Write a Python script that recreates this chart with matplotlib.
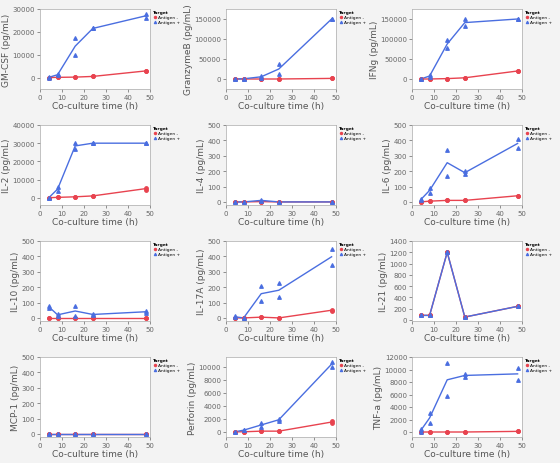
import numpy as np
import matplotlib.pyplot as plt

# co-culture time points (h)
times = [4, 8, 16, 24, 48]

names = ["GM-CSF", "GranzymeB", "IFNg", "IL-2", "IL-4", "IL-6",
         "IL-10", "IL-17A", "IL-21", "MCP-1", "Perforin", "TNF-a"]

# replicates per time point: antigen-negative
neg = {
    "GM-CSF": [[0, 0], [100, 100], [200, 200], [500, 500], [2800, 3000]],
    "GranzymeB": [[0, 0], [0, 0], [0, 0], [0, 0], [1500, 1500]],
    "IFNg": [[0, 0], [0, 0], [1000, 1000], [3000, 3000], [19000, 21000]],
    "IL-2": [[0, 0], [200, 200], [500, 500], [1000, 1000], [4500, 5500]],
    "IL-4": [[0, 0], [0, 0], [2, 2], [0, 0], [0, 0]],
    "IL-6": [[0, 0], [5, 5], [10, 10], [10, 10], [40, 40]],
    "IL-10": [[0, 0], [0, 0], [0, 0], [0, 0], [0, 0]],
    "IL-17A": [[0, 0], [0, 0], [5, 5], [0, 0], [48, 52]],
    "IL-21": [[80, 80], [80, 80], [1200, 1200], [50, 50], [240, 240]],
    "MCP-1": [[0, 0], [0, 0], [0, 0], [0, 0], [0, 0]],
    "Perforin": [[0, 0], [0, 0], [100, 100], [100, 100], [1400, 1600]],
    "TNF-a": [[0, 0], [0, 0], [0, 0], [0, 0], [100, 100]],
}
# antigen-positive
pos = {
    "GM-CSF": [[0, 200], [1000, 1500], [10000, 17500], [21500, 21500], [26000, 28000]],
    "GranzymeB": [[0, 0], [500, 500], [3000, 8000], [12000, 38000], [150000, 150000]],
    "IFNg": [[0, 0], [5000, 10000], [78000, 97000], [132000, 150000], [150000, 150000]],
    "IL-2": [[0, 0], [3500, 6000], [27000, 30000], [30000, 30000], [30000, 30000]],
    "IL-4": [[0, 0], [0, 0], [8, 12], [0, 0], [0, 0]],
    "IL-6": [[10, 20], [60, 90], [170, 340], [180, 200], [350, 410]],
    "IL-10": [[65, 80], [15, 25], [15, 75], [20, 25], [32, 48]],
    "IL-17A": [[5, 10], [0, 0], [110, 205], [135, 225], [345, 450]],
    "IL-21": [[80, 80], [80, 80], [1200, 1200], [50, 50], [240, 240]],
    "MCP-1": [[0, 0], [0, 0], [0, 0], [0, 0], [0, 0]],
    "Perforin": [[0, 0], [200, 300], [700, 1400], [1700, 2000], [10000, 10800]],
    "TNF-a": [[0, 500], [1500, 3000], [5700, 11000], [8800, 9300], [8300, 10300]],
}

ylims = {
    "GM-CSF": (-5000, 30000), "GranzymeB": (-25000, 175000), "IFNg": (-25000, 175000),
    "IL-2": (-4000, 40000), "IL-4": (-20, 500), "IL-6": (-20, 500),
    "IL-10": (-20, 500), "IL-17A": (-20, 500), "IL-21": (-20, 1400),
    "MCP-1": (-20, 500), "Perforin": (-800, 11500), "TNF-a": (-800, 12000),
}
yticks = {
    "GM-CSF": [0, 10000, 20000, 30000], "GranzymeB": [0, 50000, 100000, 150000],
    "IFNg": [0, 50000, 100000, 150000], "IL-2": [0, 10000, 20000, 30000, 40000],
    "IL-21": [0, 200, 400, 600, 800, 1000, 1200, 1400],
    "Perforin": [0, 2000, 4000, 6000, 8000, 10000],
    "TNF-a": [0, 2000, 4000, 6000, 8000, 10000, 12000],
}

RED = "#e8434f"
BLUE = "#4a6ee0"

fig = plt.figure(figsize=(5.6, 4.64), dpi=100)
fig.patch.set_facecolor("#f3f3f3")
W, H = 560, 464
col_left = [40, 226, 412]

for i, name in enumerate(names):
    r, c = divmod(i, 3)
    left = col_left[c]
    top = r * 116 + 10
    ax = fig.add_axes([left / W, 1 - (top + 80) / H, 110 / W, 80 / H])
    for data, col, mk, lab in [(neg[name], RED, "o", "Antigen -"),
                               (pos[name], BLUE, "^", "Antigen +")]:
        xs = [t for t, reps in zip(times, data) for _ in reps]
        ys = [v for reps in data for v in reps]
        ax.scatter(xs, ys, color=col, marker=mk, s=6, zorder=3, label=lab)
        ax.plot(times, [np.mean(reps) for reps in data], color=col, lw=1)
    ax.set_xlim(0, 50)
    ax.set_ylim(*ylims[name])
    ax.set_xticks([0, 10, 20, 30, 40, 50])
    ax.set_yticks(yticks.get(name, [0, 100, 200, 300, 400, 500]))
    ax.tick_params(labelsize=5, colors="#666666", length=2, width=0.5, pad=1.5)
    for s in ax.spines.values():
        s.set_color("#aaaaaa")
        s.set_linewidth(0.5)
    ax.set_xlabel("Co-culture time (h)", fontsize=6.5, color="#555555", labelpad=1)
    ax.set_ylabel(f"{name} (pg/mL)", fontsize=6.5, color="#555555", labelpad=1)
    leg = ax.legend(loc="upper left", bbox_to_anchor=(1.0, 1.03), fontsize=3.2,
                    title="Target", title_fontsize=3.2, frameon=False,
                    handletextpad=0.1, borderaxespad=0.3, labelspacing=0.2,
                    handlelength=1.0, markerscale=0.6, alignment="left")
    leg.get_title().set_fontweight("bold")

fig.savefig("out.png", dpi=100, facecolor=fig.get_facecolor())
